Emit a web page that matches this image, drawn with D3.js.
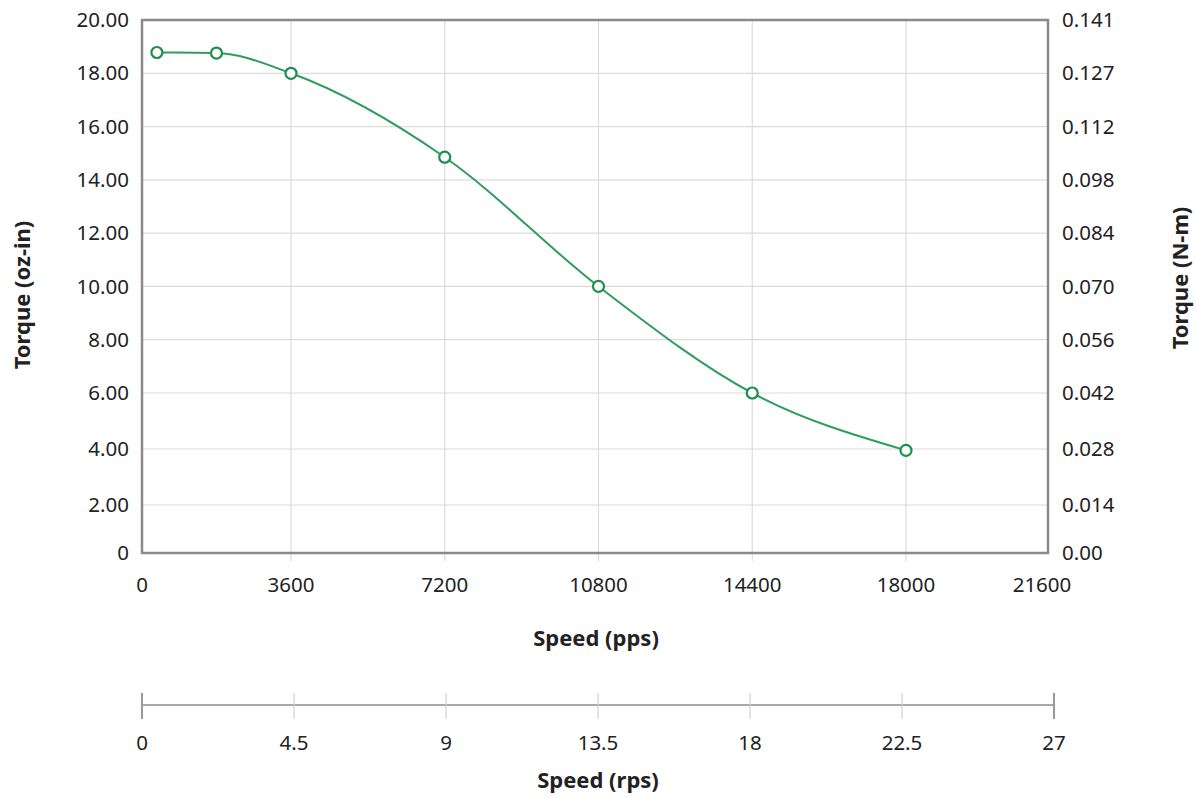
<!DOCTYPE html>
<html>
<head>
<meta charset="utf-8">
<script src="https://cdn.jsdelivr.net/npm/d3@7"></script>
<style>
  body { margin: 0; background: #fff; }
  text { font-family: "Noto Sans", "Open Sans", sans-serif; fill: #222; }
  .tick-label { font-size: 20.5px; }
  .axis-title { font-size: 22px; font-weight: bold; }
</style>
</head>
<body>
<div id="viz_container"></div>
<script>
// data
const speedPps = [360, 1800, 3600, 7200, 10800, 14400, 18000];
const torqueOzIn = [18.78, 18.76, 18.0, 14.85, 10.0, 6.0, 3.95];

// tick values and labels
const xTicks = [0, 3600, 7200, 10800, 14400, 18000, 21600];
const yTicks = [0, 2, 4, 6, 8, 10, 12, 14, 16, 18, 20];
const yLabels = ["0", "2.00", "4.00", "6.00", "8.00", "10.00", "12.00", "14.00", "16.00", "18.00", "20.00"];
const nmLabels = ["0.00", "0.014", "0.028", "0.042", "0.056", "0.070", "0.084", "0.098", "0.112", "0.127", "0.141"];
const rpsTicks = [0, 4.5, 9, 13.5, 18, 22.5, 27];

const W = 1196, H = 798;

const svg = d3.select("#viz_container")
    .append("svg")
    .attr("width", W)
    .attr("height", H);

// the original grid is not quite evenly spaced, so piecewise scales
const xScale = d3.scaleLinear()
    .domain([0, 3600, 18000, 21600])
    .range([142, 291, 906, 1048]);
const yScale = d3.scaleLinear()
    .domain([0, 2, 6, 20])
    .range([553, 505, 393, 20]);
const rpsScale = d3.scaleLinear().domain([0, 27]).range([142, 1054]);

const plotLeft = xScale(0), plotRight = xScale(21600);
const plotTop = yScale(20), plotBottom = yScale(0);

// grid lines
svg.append("g")
    .selectAll("line")
    .data(yTicks.slice(1, -1))
    .join("line")
    .attr("x1", plotLeft).attr("x2", plotRight)
    .attr("y1", d => yScale(d)).attr("y2", d => yScale(d))
    .attr("stroke", "#dcdcdc").attr("stroke-width", 1.2);

svg.append("g")
    .selectAll("line")
    .data(xTicks.slice(1, -1))
    .join("line")
    .attr("x1", d => xScale(d)).attr("x2", d => xScale(d))
    .attr("y1", plotTop).attr("y2", plotBottom + 8)
    .attr("stroke", "#dcdcdc").attr("stroke-width", 1.2);

// frame
svg.append("rect")
    .attr("x", plotLeft).attr("y", plotTop)
    .attr("width", plotRight - plotLeft)
    .attr("height", plotBottom - plotTop)
    .attr("fill", "none")
    .attr("stroke", "#8a8a8a")
    .attr("stroke-width", 2.5);

// left tick labels
svg.append("g")
    .selectAll("text")
    .data(yTicks)
    .join("text")
    .attr("class", "tick-label")
    .attr("x", plotLeft - 13)
    .attr("y", d => yScale(d))
    .attr("dy", "0.35em")
    .attr("text-anchor", "end")
    .text((d, i) => yLabels[i]);

// right tick labels
svg.append("g")
    .selectAll("text")
    .data(yTicks)
    .join("text")
    .attr("class", "tick-label")
    .attr("x", plotRight + 14)
    .attr("y", d => yScale(d))
    .attr("dy", "0.35em")
    .attr("text-anchor", "start")
    .text((d, i) => nmLabels[i]);

// bottom tick labels
svg.append("g")
    .selectAll("text")
    .data(xTicks)
    .join("text")
    .attr("class", "tick-label")
    .attr("x", (d, i) => xScale(d) - (i === xTicks.length - 1 ? 6 : 0))
    .attr("y", plotBottom + 39)
    .attr("text-anchor", "middle")
    .text(d => d);

// curve
const line = d3.line()
    .curve(d3.curveMonotoneX)
    .x((d, i) => xScale(speedPps[i]))
    .y(d => yScale(d));

svg.append("path")
    .datum(torqueOzIn)
    .attr("fill", "none")
    .attr("stroke", "#2e9e5e")
    .attr("stroke-width", 2)
    .attr("d", line);

svg.append("g")
    .selectAll("circle")
    .data(torqueOzIn)
    .join("circle")
    .attr("cx", (d, i) => xScale(speedPps[i]))
    .attr("cy", d => yScale(d))
    .attr("r", 5.5)
    .attr("fill", "#fff")
    .attr("stroke", "#1f8f4f")
    .attr("stroke-width", 2.2);

// rps axis
const rpsY = 705;
svg.append("line")
    .attr("x1", rpsScale(0)).attr("x2", rpsScale(27))
    .attr("y1", rpsY).attr("y2", rpsY)
    .attr("stroke", "#a8a8a8").attr("stroke-width", 2);

svg.append("g")
    .selectAll("line")
    .data(rpsTicks)
    .join("line")
    .attr("x1", d => rpsScale(d)).attr("x2", d => rpsScale(d))
    .attr("y1", rpsY - 12).attr("y2", rpsY + 14)
    .attr("stroke", (d, i) => (i === 0 || i === rpsTicks.length - 1) ? "#999" : "#d0d0d0")
    .attr("stroke-width", (d, i) => (i === 0 || i === rpsTicks.length - 1) ? 2 : 1.2);

svg.append("g")
    .selectAll("text")
    .data(rpsTicks)
    .join("text")
    .attr("class", "tick-label")
    .attr("x", d => rpsScale(d))
    .attr("y", rpsY + 45)
    .attr("text-anchor", "middle")
    .text(d => d);

// axis titles
svg.append("text")
    .attr("class", "axis-title")
    .attr("transform", "translate(30, 295) rotate(-90)")
    .attr("text-anchor", "middle")
    .text("Torque (oz-in)");

svg.append("text")
    .attr("class", "axis-title")
    .attr("transform", "translate(1188, 278) rotate(-90)")
    .attr("text-anchor", "middle")
    .text("Torque (N-m)");

svg.append("text")
    .attr("class", "axis-title")
    .attr("x", 596)
    .attr("y", 646)
    .attr("text-anchor", "middle")
    .text("Speed (pps)");

svg.append("text")
    .attr("class", "axis-title")
    .attr("x", 598)
    .attr("y", 788)
    .attr("text-anchor", "middle")
    .text("Speed (rps)");
</script>
</body>
</html>
